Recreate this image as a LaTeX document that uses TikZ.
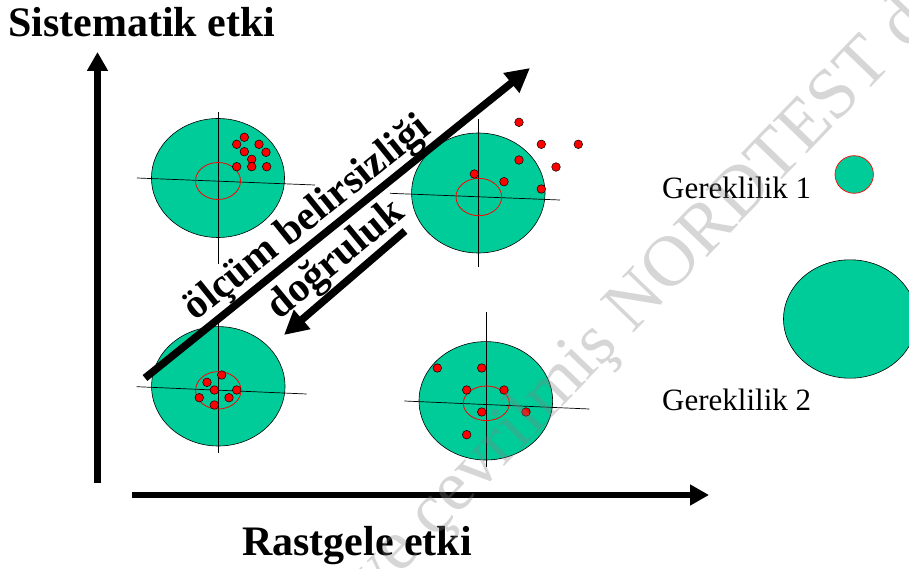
\documentclass[tikz,border=0pt]{standalone}
\usepackage{fontspec}
\setmainfont{Liberation Serif}
\usetikzlibrary{arrows.meta}
\definecolor{tgreen}{RGB}{0,204,153}
\begin{document}
\begin{tikzpicture}[x=1pt,y=-1pt,
  target/.style={draw=black, fill=tgreen, line width=0.6pt},
  cross/.style={draw=black, line width=0.7pt},
  ring/.style={draw=red, line width=0.8pt},
  shot/.style={draw=black, fill=red, line width=0.5pt},
  axisarrow/.style={line width=6.5pt, -{Triangle[length=19pt,width=20pt]}},
  diagarrow/.style={line width=7.5pt, -{Triangle[length=24pt,width=24pt]}},
  boldlabel/.style={font=\fontsize{42}{48}\selectfont\bfseries, inner sep=0pt},
  diaglabel/.style={font=\fontsize{41.5}{48}\selectfont\bfseries, inner sep=0pt, anchor=base},
  reqlabel/.style={font=\fontsize{31}{36}\selectfont, inner sep=0pt, anchor=base west},
  wmark/.style={font=\fontsize{72}{80}\selectfont, text=black!50, text opacity=0.32, inner sep=0pt, anchor=base west}
]
\useasboundingbox (0,0) rectangle (909,569);
\clip (0,0) rectangle (909,569);

% ---------- target 1 (top left)
\draw[target] (218,178) ellipse [x radius=66.5, y radius=59.5];
\draw[cross] (218,112) -- (218,264);
\draw[cross] (137,178) -- (315,185);
\draw[ring] (218,181) ellipse [x radius=22.5, y radius=18.5];
\foreach \p in {(244.3,137.3),(236.7,144.3),(259,144.3),(244.3,151.7),(266,152.3),(251.7,159.3),(236.7,166.7),(251.7,166.7),(266.7,166.7)}
  \draw[shot] \p circle [radius=4.3];

% ---------- target 2 (top right)
\draw[target] (478.3,193) ellipse [x radius=66.7, y radius=60];
\draw[cross] (478.3,119) -- (478.3,267);
\draw[cross] (390,193.3) -- (560,200);
\draw[ring] (478.8,197) ellipse [x radius=22.8, y radius=18.7];
\foreach \p in {(519,122.3),(541.3,144.3),(578.3,144.3),(519,160),(556,167),(474.3,174),(504,181.7),(541.3,189)}
  \draw[shot] \p circle [radius=4.3];

% ---------- target 3 (bottom left)
\draw[target] (218.3,386.3) ellipse [x radius=66.7, y radius=59.7];
\draw[cross] (218.3,322) -- (218.3,453);
\draw[cross] (136.7,386.7) -- (306.7,394);
\draw[ring] (218.3,390.3) ellipse [x radius=22.7, y radius=18.7];
\foreach \p in {(221.7,375),(207,382.3),(214.3,390),(236.7,390),(199.3,397.7),(229,397.7),(214.3,405)}
  \draw[shot] \p circle [radius=4.3];

% ---------- target 4 (bottom right)
\draw[target] (485.8,400.8) ellipse [x radius=66.8, y radius=59.2];
\draw[cross] (486,311.7) -- (486,466.7);
\draw[cross] (404.3,401) -- (589.3,409);
\draw[ring] (486.3,403.3) ellipse [x radius=23, y radius=17.3];
\foreach \p in {(437.3,368),(481.7,368),(466.7,390),(504,390),(481.7,412),(526,412),(466.7,434.7)}
  \draw[shot] \p circle [radius=4.3];

% ---------- requirement symbols
\draw[fill=tgreen, draw=red, line width=0.7pt] (854.2,174.5) ellipse [x radius=19.2, y radius=18.8];
\draw[target] (850,319) ellipse [x radius=66.5, y radius=59.2];
\node[reqlabel] (g1) at (662,199) {Gereklilik 1};
\node[reqlabel] (g2) at (662,410) {Gereklilik 2};

% ---------- axes
\coordinate (vA) at (97.5,483);
\coordinate (vB) at (97.5,52);
\coordinate (hA) at (132,495);
\coordinate (hB) at (709,495);
\draw[axisarrow] (vA) -- (vB);
\draw[axisarrow] (hA) -- (hB);
\node[boldlabel, anchor=base west] (sys) at (8,37) {Sistematik etki};
\node[boldlabel, anchor=base west] (rnd) at (242,555) {Rastgele etki};

% ---------- diagonal arrows
\coordinate (uA) at (145,378);
\coordinate (uB) at (530,68);
\coordinate (dA) at (405,231);
\coordinate (dB) at (284,335);
\draw[diagarrow] (uA) -- (uB);
\draw[diagarrow] (dA) -- (dB);
\node[diaglabel, rotate=38.8] (unc) at (314,227) {ölçüm belirsizliği};
\node[diaglabel, rotate=39.5] (acc) at (343,268) {doğruluk};

% ---------- watermark
\node[wmark, rotate=46] (wm) at (434,540) {\llap{Türkçe'ye }çevrilmiş NORDTEST dokümanı};
\end{tikzpicture}
\end{document}
